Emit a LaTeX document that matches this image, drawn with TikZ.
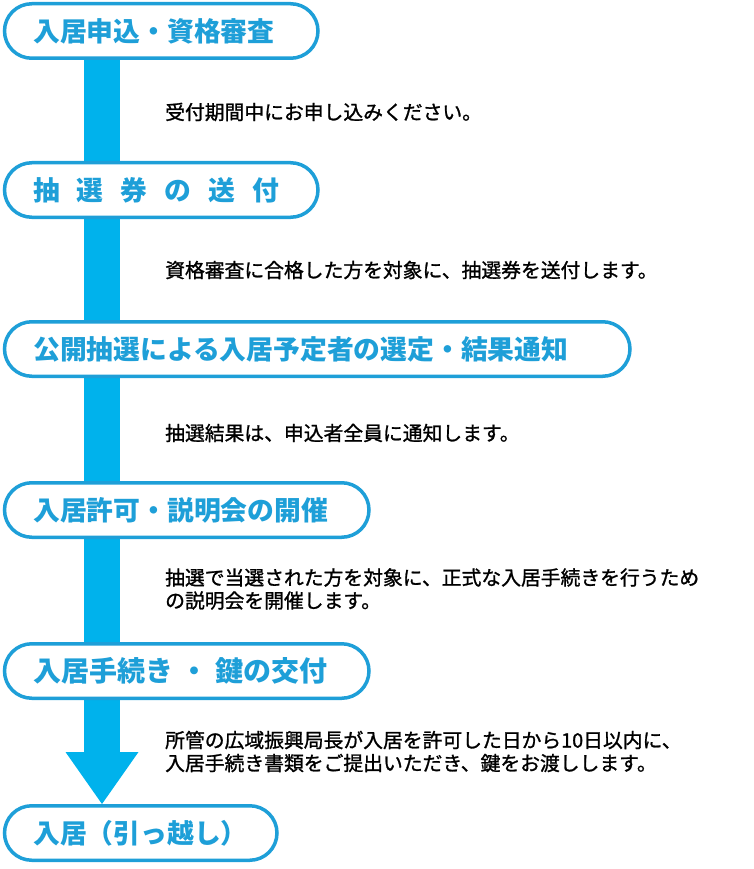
\documentclass[tikz,border=0pt]{standalone}
\usepackage{fontspec}
\newfontfamily\jp{Noto Sans CJK JP}
\newfontfamily\jpm[FakeBold=1.2]{Noto Sans CJK JP}
\usetikzlibrary{arrows.meta,backgrounds}
\definecolor{boxblue}{RGB}{30,159,216}
\definecolor{barblue}{RGB}{0,178,236}
\begin{document}
\begin{tikzpicture}[x=1pt,y=-1pt,
  stepbox/.style={draw=boxblue, line width=3.5pt, fill=white, rounded corners=27.25pt, minimum height=54.5pt, inner sep=0pt, anchor=west},
  title/.style={font=\jp\bfseries\fontsize{26.8}{30}\selectfont, text=boxblue, anchor=west, inner sep=0pt},
  desc/.style={font=\jpm\fontsize{19.8}{23}\selectfont, text=black, anchor=west, align=left, inner sep=0pt},
  bar/.style={draw=barblue, line width=36pt}]
\useasboundingbox (0,0) rectangle (754,869);
\coordinate (bx) at (102,0);
\node[stepbox, minimum width=313.5pt] (b1) at (2.75,31) {};
\node[stepbox, minimum width=313.5pt] (b2) at (2.75,190) {};
\node[stepbox, minimum width=625.5pt] (b3) at (2.75,349) {};
\node[stepbox, minimum width=364.5pt] (b4) at (2.75,510) {};
\node[stepbox, minimum width=364.5pt] (b5) at (2.75,671) {};
\node[stepbox, minimum width=272.5pt] (b6) at (2.75,833) {};
\begin{scope}[on background layer]
\draw[bar] (b1.south -| bx) -- (b2.north -| bx);
\draw[bar] (b2.south -| bx) -- (b3.north -| bx);
\draw[bar] (b3.south -| bx) -- (b4.north -| bx);
\draw[bar] (b4.south -| bx) -- (b5.north -| bx);
\draw[bar, -{Triangle[width=73pt,length=52pt,line width=0pt]}] (b5.south -| bx) -- (b6.north -| bx);
\end{scope}
\node[title] (t1) at (33,31) {入居申込・資格審査};
\node[title] (t2) at (33,190) {抽\hspace{17pt}選\hspace{17pt}券\hspace{17pt}の\hspace{17pt}送\hspace{17pt}付};
\node[title] (t3) at (33,349) {公開抽選による入居予定者の選定・結果通知};
\node[title] (t4) at (33,510) {入居許可・説明会の開催};
\node[title, font=\jp\bfseries\fontsize{28}{30}\selectfont] (t5) at (33,671) {入居手続き\hspace{7pt}・\hspace{7pt}鍵の交付};
\node[title] (t6) at (33,833) {入居（引っ越し）};
\node[desc] (d1) at (165,112) {受付期間中にお申し込みください。};
\node[desc] (d2) at (165,270) {資格審査に合格した方を対象に、抽選券を送付します。};
\node[desc] (d3) at (165,433) {抽選結果は、申込者全員に通知します。};
\node[desc] (d4) at (165,589) {抽選で当選された方を対象に、正式な入居手続きを行うため\\の説明会を開催します。};
\node[desc] (d5) at (165,751.5) {所管の広域振興局長が入居を許可した日から10日以内に、\\入居手続き書類をご提出いただき、鍵をお渡しします。};
\end{tikzpicture}
\end{document}
